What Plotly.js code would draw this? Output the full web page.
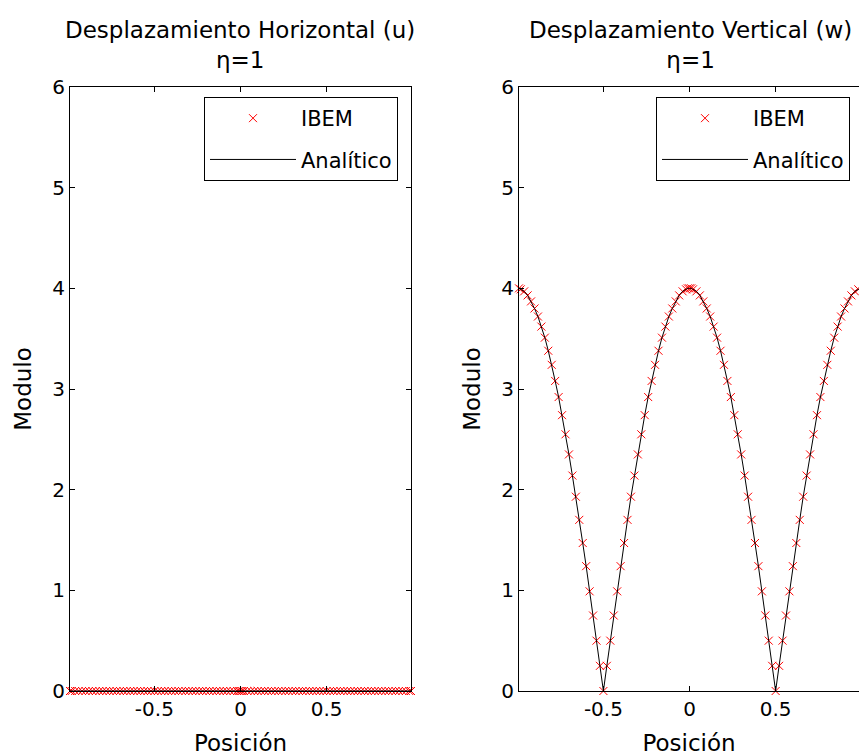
<!DOCTYPE html>
<html>
<head>
<meta charset="utf-8">
<script src="https://cdn.plot.ly/plotly-3.0.1.min.js"></script>
<style>html,body{margin:0;padding:0;background:#fff;}#chart{width:859px;height:756px;}</style>
</head>
<body>
<div id="chart"></div>
<script>
// Position along the surface (x)
const posicion = [-0.99, -0.98, -0.96, -0.94, -0.92, -0.90, -0.88, -0.86, -0.84, -0.82, -0.80, -0.78, -0.76, -0.74, -0.72, -0.70, -0.68, -0.66, -0.64, -0.62, -0.60, -0.58, -0.56, -0.54, -0.52, -0.50, -0.48, -0.46, -0.44, -0.42, -0.40, -0.38, -0.36, -0.34, -0.32, -0.30, -0.28, -0.26, -0.24, -0.22, -0.20, -0.18, -0.16, -0.14, -0.12, -0.10, -0.08, -0.06, -0.04, -0.02, -0.01, 0.00, 0.01, 0.02, 0.04, 0.06, 0.08, 0.10, 0.12, 0.14, 0.16, 0.18, 0.20, 0.22, 0.24, 0.26, 0.28, 0.30, 0.32, 0.34, 0.36, 0.38, 0.40, 0.42, 0.44, 0.46, 0.48, 0.50, 0.52, 0.54, 0.56, 0.58, 0.60, 0.62, 0.64, 0.66, 0.68, 0.70, 0.72, 0.74, 0.76, 0.78, 0.80, 0.82, 0.84, 0.86, 0.88, 0.90, 0.92, 0.94, 0.96, 0.98, 0.99];

// Horizontal displacement modulus (u): IBEM and analytic
const uIBEM = [0, 0, 0, 0, 0, 0, 0, 0, 0, 0, 0, 0, 0, 0, 0, 0, 0, 0, 0, 0, 0, 0, 0, 0, 0, 0, 0, 0, 0, 0, 0, 0, 0, 0, 0, 0, 0, 0, 0, 0, 0, 0, 0, 0, 0, 0, 0, 0, 0, 0, 0, 0, 0, 0, 0, 0, 0, 0, 0, 0, 0, 0, 0, 0, 0, 0, 0, 0, 0, 0, 0, 0, 0, 0, 0, 0, 0, 0, 0, 0, 0, 0, 0, 0, 0, 0, 0, 0, 0, 0, 0, 0, 0, 0, 0, 0, 0, 0, 0, 0, 0, 0, 0];
const uAnalitico = [0, 0, 0, 0, 0, 0, 0, 0, 0, 0, 0, 0, 0, 0, 0, 0, 0, 0, 0, 0, 0, 0, 0, 0, 0, 0, 0, 0, 0, 0, 0, 0, 0, 0, 0, 0, 0, 0, 0, 0, 0, 0, 0, 0, 0, 0, 0, 0, 0, 0, 0, 0, 0, 0, 0, 0, 0, 0, 0, 0, 0, 0, 0, 0, 0, 0, 0, 0, 0, 0, 0, 0, 0, 0, 0, 0, 0, 0, 0, 0, 0, 0, 0, 0, 0, 0, 0, 0, 0, 0, 0, 0, 0, 0, 0, 0, 0, 0, 0, 0, 0, 0, 0];

// Vertical displacement modulus (w): IBEM and analytic
const wIBEM = [4.00, 3.99, 3.97, 3.93, 3.87, 3.80, 3.72, 3.62, 3.51, 3.38, 3.24, 3.08, 2.92, 2.74, 2.55, 2.35, 2.14, 1.93, 1.70, 1.47, 1.24, 0.99, 0.75, 0.50, 0.25, 0.00, 0.25, 0.50, 0.75, 0.99, 1.24, 1.47, 1.70, 1.93, 2.14, 2.35, 2.55, 2.74, 2.92, 3.08, 3.24, 3.38, 3.51, 3.62, 3.72, 3.80, 3.87, 3.93, 3.97, 3.99, 4.00, 4.00, 4.00, 3.99, 3.97, 3.93, 3.87, 3.80, 3.72, 3.62, 3.51, 3.38, 3.24, 3.08, 2.92, 2.74, 2.55, 2.35, 2.14, 1.93, 1.70, 1.47, 1.24, 0.99, 0.75, 0.50, 0.25, 0.00, 0.25, 0.50, 0.75, 0.99, 1.24, 1.47, 1.70, 1.93, 2.14, 2.35, 2.55, 2.74, 2.92, 3.08, 3.24, 3.38, 3.51, 3.62, 3.72, 3.80, 3.87, 3.93, 3.97, 3.99, 4.00];
const wAnalitico = [4.00, 3.99, 3.97, 3.93, 3.87, 3.80, 3.72, 3.62, 3.51, 3.38, 3.24, 3.08, 2.92, 2.74, 2.55, 2.35, 2.14, 1.93, 1.70, 1.47, 1.24, 0.99, 0.75, 0.50, 0.25, 0.00, 0.25, 0.50, 0.75, 0.99, 1.24, 1.47, 1.70, 1.93, 2.14, 2.35, 2.55, 2.74, 2.92, 3.08, 3.24, 3.38, 3.51, 3.62, 3.72, 3.80, 3.87, 3.93, 3.97, 3.99, 4.00, 4.00, 4.00, 3.99, 3.97, 3.93, 3.87, 3.80, 3.72, 3.62, 3.51, 3.38, 3.24, 3.08, 2.92, 2.74, 2.55, 2.35, 2.14, 1.93, 1.70, 1.47, 1.24, 0.99, 0.75, 0.50, 0.25, 0.00, 0.25, 0.50, 0.75, 0.99, 1.24, 1.47, 1.70, 1.93, 2.14, 2.35, 2.55, 2.74, 2.92, 3.08, 3.24, 3.38, 3.51, 3.62, 3.72, 3.80, 3.87, 3.93, 3.97, 3.99, 4.00];

const xTicks = [-0.5, 0, 0.5];
const xTickText = ['-0.5', '0', '0.5'];
const yTicks = [0, 1, 2, 3, 4, 5, 6];
const titles = ['Desplazamiento Horizontal (u)<br>η=1', 'Desplazamiento Vertical (w)<br>η=1'];

const FONT = 'DejaVu Sans, Arial, sans-serif';
const W = 859, H = 756;
const RED = 'rgb(255,0,0)';

const ibemMarker = {symbol: 'x-thin', size: 8, color: RED, line: {color: RED, width: 1}};

const traces = [
  {x: posicion, y: uIBEM, xaxis: 'x', yaxis: 'y', name: 'IBEM', mode: 'markers', legend: 'legend', legendgroup: 'a',
   marker: ibemMarker, cliponaxis: false},
  {x: posicion, y: uAnalitico, xaxis: 'x', yaxis: 'y', name: 'Analítico', mode: 'lines', legend: 'legend', legendgroup: 'b',
   line: {color: '#000000', width: 1}, cliponaxis: false},
  {x: posicion, y: wIBEM, xaxis: 'x2', yaxis: 'y2', name: 'IBEM', mode: 'markers', legend: 'legend2', legendgroup: 'c',
   marker: ibemMarker, cliponaxis: false},
  {x: posicion, y: wAnalitico, xaxis: 'x2', yaxis: 'y2', name: 'Analítico', mode: 'lines', legend: 'legend2', legendgroup: 'd',
   line: {color: '#000000', width: 1}, cliponaxis: false}
];

const xBase = {
  tickvals: xTicks, ticktext: xTickText, ticks: 'inside', ticklen: 5, tickcolor: '#000',
  showline: true, linecolor: '#000', linewidth: 1, mirror: 'ticks', showgrid: false, zeroline: false,
  tickfont: {family: FONT, size: 20, color: '#000'},
  title: {text: 'Posición', font: {family: FONT, size: 23, color: '#000'}, standoff: 20}
};
const yBase = {
  range: [0, 6], tickvals: yTicks, ticks: 'inside', ticklen: 5, tickcolor: '#000',
  showline: true, linecolor: '#000', linewidth: 1, showgrid: false, zeroline: false,
  tickfont: {family: FONT, size: 20, color: '#000'},
  title: {text: 'Modulo', font: {family: FONT, size: 23, color: '#000'}, standoff: 14}
};

const legBase = {
  xanchor: 'left', yanchor: 'top', bordercolor: '#000', borderwidth: 1, bgcolor: '#fff',
  font: {family: FONT, size: 21, color: '#000'}, itemwidth: 86, tracegroupgap: 11, itemclick: false
};

const layout = {
  width: W, height: H,
  paper_bgcolor: '#fff', plot_bgcolor: '#fff',
  margin: {l: 0, r: 0, t: 0, b: 0},
  showlegend: true,
  xaxis: Object.assign({}, xBase, {domain: [70 / W, 411 / W], range: [-0.99, 0.99], anchor: 'y'}),
  yaxis: Object.assign({}, yBase, {domain: [1 - 691 / H, 1 - 87 / H], anchor: 'x', mirror: 'ticks'}),
  xaxis2: Object.assign({}, xBase, {domain: [519 / W, 1], range: [-0.99, 0.984], anchor: 'y2'}),
  yaxis2: Object.assign({}, yBase, {domain: [1 - 691 / H, 1 - 87 / H], anchor: 'x2', mirror: false}),
  legend: Object.assign({}, legBase, {x: 204 / W, y: 1 - 97 / H}),
  legend2: Object.assign({}, legBase, {x: 656 / W, y: 1 - 97 / H}),
  annotations: [
    {text: titles[0], xref: 'paper', yref: 'paper', x: 240 / W, y: 1 - 15 / H, xanchor: 'center', yanchor: 'top',
     showarrow: false, font: {family: FONT, size: 23, color: '#000'}},
    {text: titles[1], xref: 'paper', yref: 'paper', x: 690 / W, y: 1 - 15 / H, xanchor: 'center', yanchor: 'top',
     showarrow: false, font: {family: FONT, size: 23, color: '#000'}}
  ]
};

Plotly.newPlot('chart', traces, layout, {staticPlot: true, displayModeBar: false});
</script>
</body>
</html>
